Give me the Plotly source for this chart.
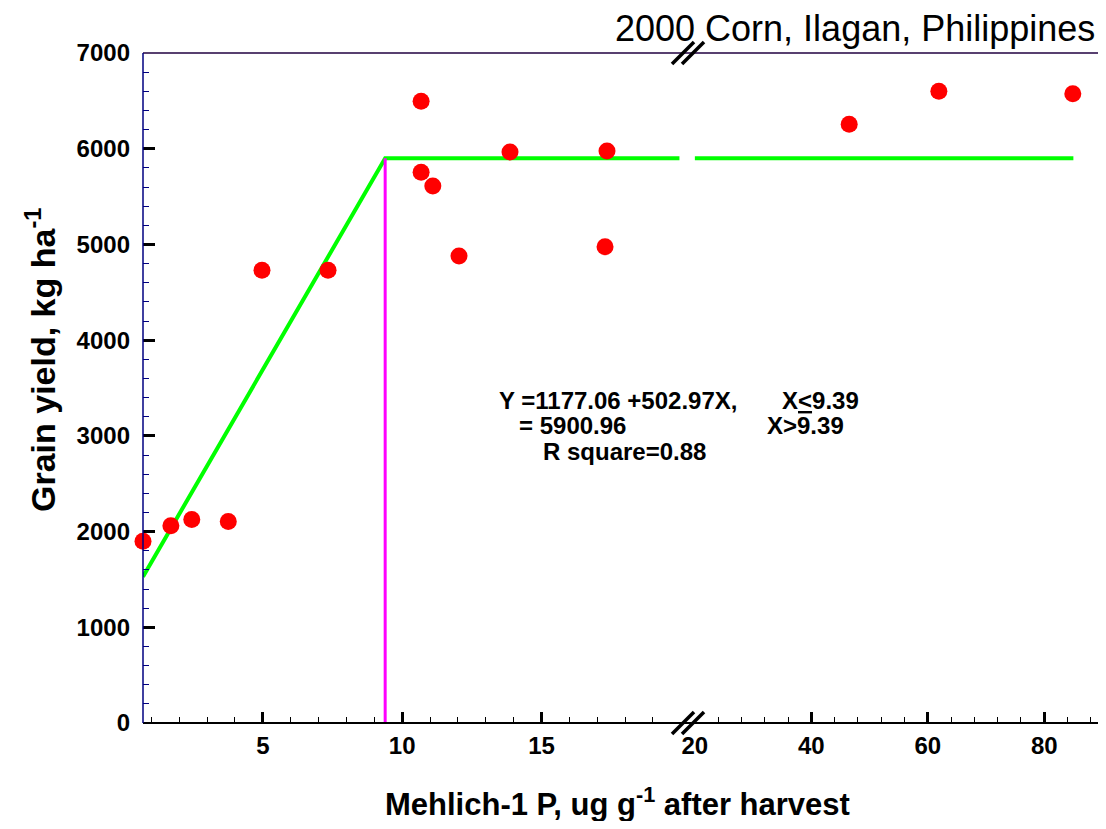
import plotly.graph_objects as go

# ---- data ----
p_low = [0.7, 1.7, 2.45, 3.76, 4.97, 7.34, 10.68, 10.68, 11.1, 12.04, 13.87, 17.35, 17.28]
yield_low = [1900, 2060, 2125, 2105, 4730, 4730, 6495, 5755, 5610, 4880, 5965, 5975, 4975]
p_high = [46.5, 61.9, 84.9]
yield_high = [6255, 6600, 6575]

fit_x_low = [0.7, 9.39, 19.95]
fit_y_low = [1529, 5900.96, 5900.96]
fit_x_high = [20, 85]
fit_y_high = [5900.96, 5900.96]

join_x = [9.39, 9.39]
join_y = [0, 5900.96]

x_low_ticks = [5, 10, 15]
x_high_ticks = [20, 40, 60, 80]
y_ticks = [0, 1000, 2000, 3000, 4000, 5000, 6000, 7000]

FONT = "Liberation Sans, Arial, sans-serif"
OFF = 8  # page body margin
W, H = 1098, 813
L, R, T, B = 135, 7, 45, 98
plot_w = W - L - R
plot_h = H - T - B
PX0 = OFF + L          # page x of plot left edge
PY1 = OFF + T + plot_h  # page y of plot bottom edge


def px_x(px):
    return (px - PX0) / plot_w


def px_y(py):
    return (PY1 - py) / plot_h


dom1_end = px_x(680)
dom2_start = px_x(694)
gap_c = px_x(688)

fig = go.Figure()

fig.add_trace(go.Scatter(x=fit_x_low, y=fit_y_low, mode="lines",
                         line=dict(color="#00FF00", width=4), xaxis="x", yaxis="y",
                         showlegend=False, hoverinfo="skip"))
fig.add_trace(go.Scatter(x=fit_x_high, y=fit_y_high, mode="lines",
                         line=dict(color="#00FF00", width=4), xaxis="x2", yaxis="y",
                         showlegend=False, hoverinfo="skip"))
fig.add_trace(go.Scatter(x=join_x, y=join_y, mode="lines",
                         line=dict(color="#FF00FF", width=3), xaxis="x", yaxis="y",
                         showlegend=False, hoverinfo="skip"))
fig.add_trace(go.Scatter(x=p_low, y=yield_low, mode="markers",
                         marker=dict(color="#FF0000", size=17), xaxis="x", yaxis="y",
                         showlegend=False, cliponaxis=False))
fig.add_trace(go.Scatter(x=p_high, y=yield_high, mode="markers",
                         marker=dict(color="#FF0000", size=17), xaxis="x2", yaxis="y",
                         showlegend=False, cliponaxis=False))

tickfont = dict(family=FONT, size=24, color="black", weight="bold")

common_x = dict(showgrid=False, zeroline=False, showline=False, ticks="inside",
                ticklen=11, tickwidth=3, tickcolor="black", tickfont=tickfont,
                ticklabelstandoff=6, anchor="y")

fig.update_layout(
    width=W, height=H,
    margin=dict(l=L, r=R, t=T, b=B),
    paper_bgcolor="white", plot_bgcolor="white",
    xaxis=dict(domain=[0, dom1_end], range=[0.7, 19.97], tickvals=x_low_ticks,
               minor=dict(dtick=1, tick0=0, ticks="inside", ticklen=6, tickwidth=1,
                          tickcolor="black"),
               **common_x),
    xaxis2=dict(domain=[dom2_start, 1], range=[19.85, 89.4], tickvals=x_high_ticks,
                minor=dict(dtick=4, tick0=20, ticks="inside", ticklen=6, tickwidth=1,
                           tickcolor="black"),
                **common_x),
    yaxis=dict(range=[0, 7000], tickvals=y_ticks, showgrid=False, zeroline=False,
               showline=False, ticks="inside", ticklen=12, tickwidth=3,
               tickcolor="black", tickfont=tickfont, ticklabelstandoff=12,
               minor=dict(dtick=200, ticks="inside", ticklen=6, tickwidth=1,
                          tickcolor="#000080")),
)

# frame
fig.add_shape(type="line", xref="paper", yref="paper", x0=0, x1=1, y0=0, y1=0,
              line=dict(color="black", width=2))
fig.add_shape(type="line", xref="paper", yref="paper", x0=0, x1=1, y0=1, y1=1,
              line=dict(color="#200040", width=1.5))
fig.add_shape(type="line", xref="paper", yref="paper", x0=0, x1=0, y0=0, y1=1,
              line=dict(color="#000080", width=1.5))
fig.add_shape(type="line", xref="paper", yref="paper", x0=1, x1=1, y0=0, y1=1,
              line=dict(color="#000080", width=2))

# axis break marks (bottom and top)
for yy in (0, 1):
    for off in (-5, 5):
        fig.add_shape(type="line", xref="paper", yref="paper",
                      xsizemode="pixel", ysizemode="pixel",
                      xanchor=gap_c, yanchor=yy,
                      x0=off - 11, x1=off + 11, y0=-11, y1=11,
                      line=dict(color="black", width=3.5))

annot_font = dict(family=FONT, size=24, color="black", weight="bold")

annotations = [
    dict(text="2000 Corn, Ilagan, Philippines", x=px_x(1097), y=px_y(28),
         xanchor="right", yanchor="middle",
         font=dict(family=FONT, size=36, color="black")),
    dict(text="Mehlich-1 P, ug g<sup>-1</sup> after harvest", x=px_x(617), y=px_y(802),
         xanchor="center", yanchor="middle",
         font=dict(family=FONT, size=31, color="black", weight="bold")),
    dict(text="Grain yield, kg ha<sup>-1</sup>", x=px_x(40), y=px_y(360),
         xanchor="center", yanchor="middle", textangle=-90,
         font=dict(family=FONT, size=34, color="black", weight="bold")),
    dict(text="Y =1177.06 +502.97X,", x=px_x(497), y=px_y(400),
         xanchor="left", yanchor="middle", font=annot_font),
    dict(text="X<u>&lt;</u>9.39", x=px_x(780), y=px_y(400),
         xanchor="left", yanchor="middle", font=annot_font),
    dict(text="= 5900.96", x=px_x(517), y=px_y(425),
         xanchor="left", yanchor="middle", font=annot_font),
    dict(text="X&gt;9.39", x=px_x(765), y=px_y(425),
         xanchor="left", yanchor="middle", font=annot_font),
    dict(text="R square=0.88", x=px_x(541), y=px_y(451),
         xanchor="left", yanchor="middle", font=annot_font),
]
for a in annotations:
    fig.add_annotation(xref="paper", yref="paper", showarrow=False, **a)

fig.write_html("out.html")
